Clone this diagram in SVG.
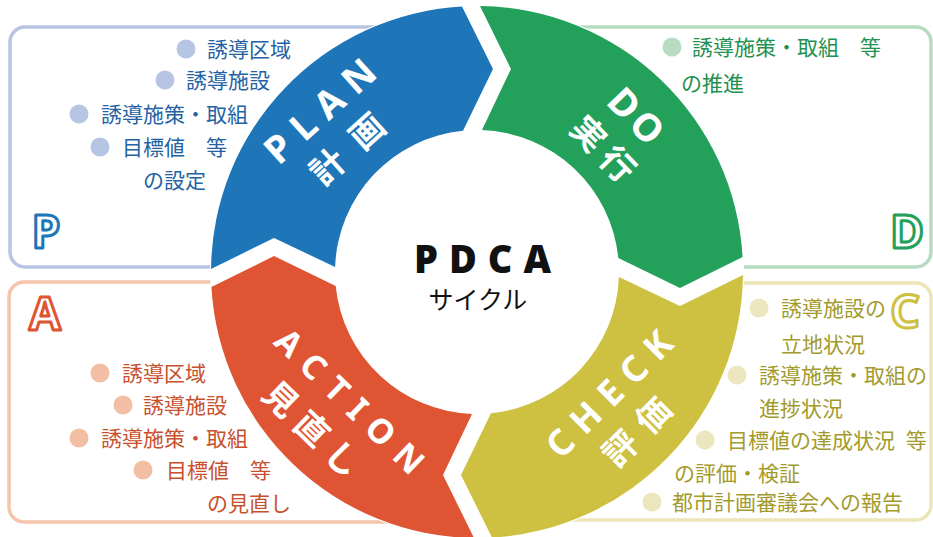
<svg xmlns="http://www.w3.org/2000/svg" xmlns:xlink="http://www.w3.org/1999/xlink" width="933" height="537" viewBox="0 0 933 537">
<style>
.card{fill:#fff;stroke-width:3.5}
.t{font-family:'Noto Sans CJK JP','Noto Sans CJK SC',sans-serif;font-size:21px}
.tp{fill:#2462a4}.td{fill:#23914f}.ta{fill:#c8502d}.tc{fill:#a39a2c}
.bp{fill:#b6c5e3}.bd{fill:#b8dcc2}.ba{fill:#f3bfa4}.bc{fill:#ece6bf}
.big{font-family:'Noto Sans','DejaVu Sans',sans-serif;font-weight:700;font-size:46px;fill:#fff;stroke-width:3;stroke-linejoin:round;text-anchor:middle}
.lat{font-family:'Noto Sans','Noto Sans CJK JP',sans-serif;font-weight:700;fill:#fff;text-anchor:middle}
.jl{font-family:'Noto Sans CJK JP',sans-serif;font-weight:700;font-size:34px;fill:#fff;text-anchor:middle}
</style>
<defs>
<path id="seg" d="M335.1 267 L274 238 L211.02 269 A266 266 0 0 1 462 6.42 L493 69 L463 130.7 A142 142 0 0 0 335.1 267 Z"/>
</defs>
<rect width="933" height="537" fill="#fff"/>

<g id="card-p">
<rect class="card" x="10" y="27" width="470" height="240" rx="15" stroke="#b6c5e3"/>
</g>
<g id="card-d">
<rect class="card" x="470" y="27" width="461" height="240" rx="15" stroke="#b8dcc2"/>
</g>
<g id="card-a">
<rect class="card" x="9" y="282" width="471" height="240" rx="15" stroke="#f5c4aa"/>
</g>
<g id="card-c">
<rect class="card" x="470" y="283" width="461" height="237" rx="15" stroke="#ece5b6"/>
</g>

<circle cx="477" cy="272" r="267" fill="#fff"/>

<g id="plan">
<use xlink:href="#seg" href="#seg" fill="#1e76b9"/>
<g transform="translate(320 111) rotate(-42)">
<text class="lat" x="5.5" y="13.5" font-size="38" letter-spacing="11">PLAN</text>
<text class="jl" x="4.5" y="59" letter-spacing="19">計画</text>
</g>
</g>
<g id="do">
<use xlink:href="#seg" href="#seg" fill="#23a05a" transform="rotate(90 477 272)"/>
<g transform="translate(636 116) rotate(46)">
<text class="lat" x="2" y="13.5" font-size="38" letter-spacing="4">DO</text>
<text class="jl" x="5" y="59" letter-spacing="8">実行</text>
</g>
</g>
<g id="check">
<use xlink:href="#seg" href="#seg" fill="#cec040" transform="rotate(180 477 272)"/>
<g transform="translate(609 394) rotate(-45)">
<text class="lat" x="5.5" y="13" font-size="36" letter-spacing="11">CHECK</text>
<text class="jl" x="-0.5" y="59" letter-spacing="13">評価</text>
</g>
</g>
<g id="action">
<use xlink:href="#seg" href="#seg" fill="#df5433" transform="rotate(270 477 272)"/>
<g transform="translate(350 401) rotate(44)">
<text class="lat" x="6" y="12.5" font-size="34" letter-spacing="12">ACTION</text>
<text class="jl" x="-3.5" y="59" letter-spacing="9">見直し</text>
</g>
</g>

<g id="center">
<text x="488" y="273" font-family="'Noto Sans','DejaVu Sans',sans-serif" font-weight="900" font-size="38" letter-spacing="11" text-anchor="middle" fill="#111">PDCA</text>
<text x="478" y="309" font-family="'Noto Sans CJK JP',sans-serif" font-size="25" text-anchor="middle" fill="#111">サイクル</text>
</g>

<g id="p-items">
<text class="big" x="46" y="248" stroke="#1e76b9">P</text>
<circle class="bp" cx="186" cy="49" r="9.5"/><text class="t tp" x="207" y="57">誘導区域</text>
<circle class="bp" cx="165" cy="80" r="9.5"/><text class="t tp" x="186" y="88">誘導施設</text>
<circle class="bp" cx="79" cy="114" r="9.5"/><text class="t tp" x="101" y="122">誘導施策・取組</text>
<circle class="bp" cx="100" cy="147" r="9.5"/><text class="t tp" x="122" y="155">目標値　等</text>
<text class="t tp" x="143" y="188">の設定</text>
</g>

<g id="d-items">
<text class="big" x="907" y="248" stroke="#23a05a">D</text>
<circle class="bd" cx="672" cy="47" r="9.5"/><text class="t td" x="692" y="55">誘導施策・取組　等</text>
<text class="t td" x="681" y="91">の推進</text>
</g>

<g id="a-items">
<text class="big" x="45" y="330" stroke="#df5433">A</text>
<circle class="ba" cx="100" cy="373" r="9.5"/><text class="t ta" x="122" y="381">誘導区域</text>
<circle class="ba" cx="123" cy="405" r="9.5"/><text class="t ta" x="143" y="413">誘導施設</text>
<circle class="ba" cx="79" cy="438" r="9.5"/><text class="t ta" x="101" y="446">誘導施策・取組</text>
<circle class="ba" cx="143" cy="470" r="9.5"/><text class="t ta" x="166" y="478">目標値　等</text>
<text class="t ta" x="207" y="511">の見直し</text>
</g>

<g id="c-items">
<text class="big" x="905" y="328" stroke="#cec040">C</text>
<circle class="bc" cx="759" cy="308" r="9.5"/><text class="t tc" x="781" y="316">誘導施設の</text>
<text class="t tc" x="781" y="352">立地状況</text>
<circle class="bc" cx="737" cy="375" r="9.5"/><text class="t tc" x="759" y="383">誘導施策・取組の</text>
<text class="t tc" x="759" y="416">進捗状況</text>
<circle class="bc" cx="705" cy="440" r="9.5"/><text class="t tc" x="727" y="448">目標値の達成状況 <tspan dx="6">等</tspan></text>
<text class="t tc" x="674" y="481">の評価・検証</text>
<circle class="bc" cx="652" cy="502" r="9.5"/><text class="t tc" x="672" y="510">都市計画審議会への報告</text>
</g>

<g id="connectors"></g>
</svg>
